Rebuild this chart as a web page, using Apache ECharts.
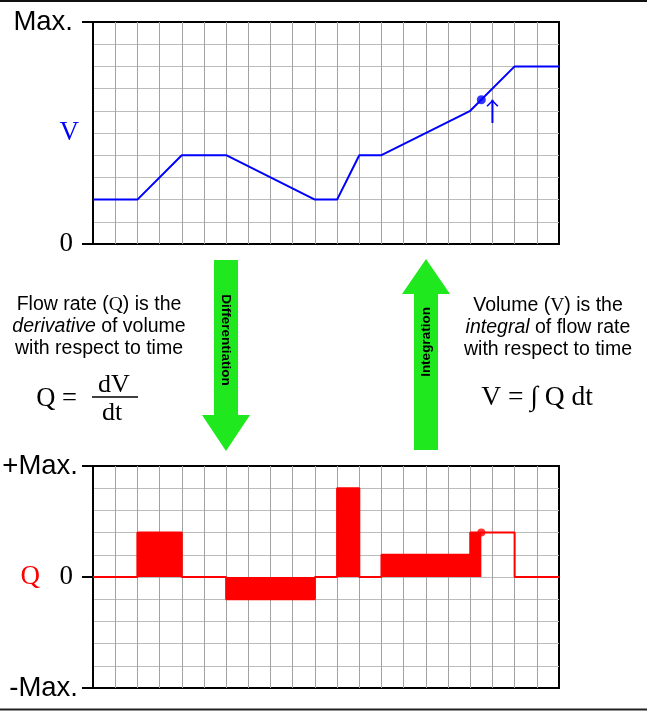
<!DOCTYPE html>
<html>
<head>
<meta charset="utf-8">
<script src="https://cdn.jsdelivr.net/npm/echarts@6/dist/echarts.min.js"></script>
<style>
html,body{margin:0;padding:0;background:#fff;}
#chart{width:647px;height:713px;}
</style>
</head>
<body>
<div id="chart"></div>
<script>
// ---- data ----
const vTimes   = [0, 2, 4, 6, 10, 11, 12, 13, 17, 19, 21];
const vVolume  = [2, 2, 4, 4, 2, 2, 4, 4, 6, 8, 8];
const qEdges   = [0, 2, 4, 6, 10, 11, 12, 13, 17, 19, 21];
const qFlow    = [0, 2, 0, -1, 0, 4, 0, 1, 2, 0];
const markTime = 17.5;
const vMark    = [17.5, 6.5];
const qMark    = [17.5, 2];
const vArrow   = [[18, 5.45], [18, 6.5]];
const vTickLabels = {0: '0', 10: 'Max.'};
const qTickLabels = {'-5': '-Max.', 0: '0', 5: '+Max.'};

// build step polylines from flow segments, split at the marker time
function stepPoints(from, to) {
  const pts = [];
  for (let i = 0; i < qFlow.length; i++) {
    const a = Math.max(qEdges[i], from), b = Math.min(qEdges[i + 1], to);
    if (b <= a) continue;
    pts.push([a, qFlow[i]]);
    pts.push([b, qFlow[i]]);
  }
  return pts;
}
const qFilled = stepPoints(0, markTime);
const qOutline = stepPoints(markTime, 21);
const vLine = vTimes.map((t, i) => [t, vVolume[i]]);

const SANS = 'Liberation Sans, Arial, sans-serif';
const SERIF = 'Liberation Serif, Times New Roman, serif';

const chart = echarts.init(document.getElementById('chart'), null, {renderer: 'canvas'});

const gridX = (gi) => ({
  gridIndex: gi, type: 'value', min: 0, max: 21, interval: 1,
  axisLine: {show: false}, axisTick: {show: false}, axisLabel: {show: false},
  splitLine: {show: true, showMinLine: false, showMaxLine: false, lineStyle: {color: '#a2a2a2', width: 1}}
});
const gridY = (gi, mn, mx) => ({
  gridIndex: gi, type: 'value', min: mn, max: mx, interval: 1,
  axisLine: {show: false}, axisTick: {show: false}, axisLabel: {show: false},
  splitLine: {show: true, showMinLine: false, showMaxLine: false, lineStyle: {color: '#bcbcbc', width: 1}}
});

const option = {
  animation: false,
  backgroundColor: '#fff',
  grid: [
    {left: 93, top: 22, width: 466, height: 222, containLabel: false, outerBoundsMode: 'none', show: true, borderColor: '#000', borderWidth: 2, backgroundColor: 'transparent'},
    {left: 93, top: 466, width: 466, height: 222, containLabel: false, outerBoundsMode: 'none', show: true, borderColor: '#000', borderWidth: 2, backgroundColor: 'transparent'}
  ],
  xAxis: [gridX(0), gridX(1)],
  yAxis: [
    gridY(0, 0, 10),
    {
      gridIndex: 0, type: 'value', min: 0, max: 10, interval: 10, position: 'left',
      axisLine: {show: true, lineStyle: {color: '#000', width: 2}},
      axisTick: {show: true, length: 11, lineStyle: {color: '#000', width: 2}},
      splitLine: {show: false},
      axisLabel: {
        margin: 20,
        formatter: v => v === 10 ? '{m|' + vTickLabels[v] + '}' : '{z|' + vTickLabels[v] + '}',
        rich: {
          m: {fontFamily: SANS, fontSize: 27.5, color: '#000'},
          z: {fontFamily: SERIF, fontSize: 27, color: '#000'}
        }
      },
      name: 'V', nameLocation: 'middle', nameRotate: 0, nameGap: 14, nameMoveOverlap: false,
      nameTextStyle: {color: '#0000ff', fontFamily: SERIF, fontSize: 27}
    },
    gridY(1, -5, 5),
    {
      gridIndex: 1, type: 'value', min: -5, max: 5, interval: 5, position: 'left',
      axisLine: {show: true, lineStyle: {color: '#000', width: 2}},
      axisTick: {show: true, length: 11, lineStyle: {color: '#000', width: 2}},
      splitLine: {show: false},
      axisLabel: {
        margin: 15,
        formatter: v => v === 0 ? '{z|' + qTickLabels[v] + '}' : '{m|' + qTickLabels[v] + '}',
        rich: {
          m: {fontFamily: SANS, fontSize: 27.5, color: '#000'},
          z: {fontFamily: SERIF, fontSize: 27, color: '#000', padding: [0, 5, 0, 0]}
        }
      },
      name: 'Q', nameLocation: 'middle', nameRotate: 0, nameGap: 53, nameMoveOverlap: false,
      nameTextStyle: {color: '#ff0000', fontFamily: SERIF, fontSize: 27}
    }
  ],
  series: [
    {
      type: 'line', xAxisIndex: 0, yAxisIndex: 0, data: vLine, symbol: 'none',
      lineStyle: {color: '#0000ff', width: 2}, z: 5
    },
    {
      type: 'scatter', xAxisIndex: 0, yAxisIndex: 0, data: [vMark], symbolSize: 9,
      itemStyle: {color: '#0000ff'}, z: 6
    },
    {
      type: 'line', xAxisIndex: 0, yAxisIndex: 0,
      data: [
        {value: vArrow[0], symbol: 'none'},
        {value: vArrow[1], symbol: 'path://M0,60 L60,0 L120,60 L108,70 L60,20 L12,70 Z', symbolSize: [12, 7], symbolOffset: [0, 3.5]}
      ],
      showSymbol: true, lineStyle: {color: '#0000ff', width: 2}, itemStyle: {color: '#0000ff'}, z: 6
    },
    {
      type: 'line', xAxisIndex: 1, yAxisIndex: 2, data: qFilled, symbol: 'none',
      lineStyle: {color: '#ff0000', width: 2}, areaStyle: {color: '#ff0000', opacity: 1, origin: 'auto'}, z: 5
    },
    {
      type: 'line', xAxisIndex: 1, yAxisIndex: 2, data: qOutline, symbol: 'none',
      lineStyle: {color: '#ff0000', width: 2}, z: 5
    },
    {
      type: 'scatter', xAxisIndex: 1, yAxisIndex: 2, data: [qMark], symbolSize: 8,
      itemStyle: {color: '#ff0000'}, z: 6
    }
  ],
  graphic: [
    {type: 'line', shape: {x1: 0, y1: 1, x2: 647, y2: 1}, style: {stroke: '#111', lineWidth: 2}},
    {type: 'line', shape: {x1: 0, y1: 709.5, x2: 647, y2: 709.5}, style: {stroke: '#222', lineWidth: 2}},
    {type: 'polygon', shape: {points: [[214,260],[238,260],[238,415],[250,415],[226,451],[202,415],[214,415]]}, style: {fill: '#1fe81f'}},
    {type: 'polygon', shape: {points: [[414,450],[438,450],[438,294],[450,294],[426,259],[402,294],[414,294]]}, style: {fill: '#1fe81f'}},
    {type: 'text', x: 226, y: 340, rotation: -Math.PI / 2,
      style: {text: 'Differentiation', fontFamily: SANS, fontWeight: 'bold', fontSize: 13.5, fill: '#000', align: 'center', verticalAlign: 'middle'}},
    {type: 'text', x: 426, y: 342, rotation: Math.PI / 2,
      style: {text: 'Integration', fontFamily: SANS, fontWeight: 'bold', fontSize: 13.5, fill: '#000', align: 'center', verticalAlign: 'middle'}},
    {type: 'text', x: 99, y: 327,
      style: {
        text: '{n|Flow rate (}{s|Q}{n|) is the}\n{i|derivative}{n| of volume}\n{n|with respect to time}',
        align: 'center', verticalAlign: 'middle',
        rich: {
          n: {fontFamily: SANS, fontSize: 19.5, lineHeight: 22, fill: '#000'},
          s: {fontFamily: SERIF, fontSize: 19.5, lineHeight: 22, fill: '#000'},
          i: {fontFamily: SANS, fontStyle: 'italic', fontSize: 19.5, lineHeight: 22, fill: '#000'}
        }
      }},
    {type: 'text', x: 548, y: 328,
      style: {
        text: '{n|Volume (}{s|V}{n|) is the}\n{i|integral}{n| of flow rate}\n{n|with respect to time}',
        align: 'center', verticalAlign: 'middle',
        rich: {
          n: {fontFamily: SANS, fontSize: 19.5, lineHeight: 22, fill: '#000'},
          s: {fontFamily: SERIF, fontSize: 19.5, lineHeight: 22, fill: '#000'},
          i: {fontFamily: SANS, fontStyle: 'italic', fontSize: 19.5, lineHeight: 22, fill: '#000'}
        }
      }},
    {type: 'text', x: 77, y: 399, style: {text: 'Q =', fontFamily: SERIF, fontSize: 26.5, fill: '#000', align: 'right', verticalAlign: 'middle'}},
    {type: 'text', x: 114, y: 385, style: {text: 'dV', fontFamily: SERIF, fontSize: 26, fill: '#000', align: 'center', verticalAlign: 'middle'}},
    {type: 'line', shape: {x1: 92, y1: 397, x2: 138, y2: 397}, style: {stroke: '#000', lineWidth: 1.5}},
    {type: 'text', x: 112, y: 413, style: {text: 'dt', fontFamily: SERIF, fontSize: 26, fill: '#000', align: 'center', verticalAlign: 'middle'}},
    {type: 'text', x: 537, y: 398, style: {text: 'V = \u222B Q dt', fontFamily: SERIF, fontSize: 27.5, fill: '#000', align: 'center', verticalAlign: 'middle'}}
  ]
};
chart.setOption(option);
</script>
</body>
</html>
